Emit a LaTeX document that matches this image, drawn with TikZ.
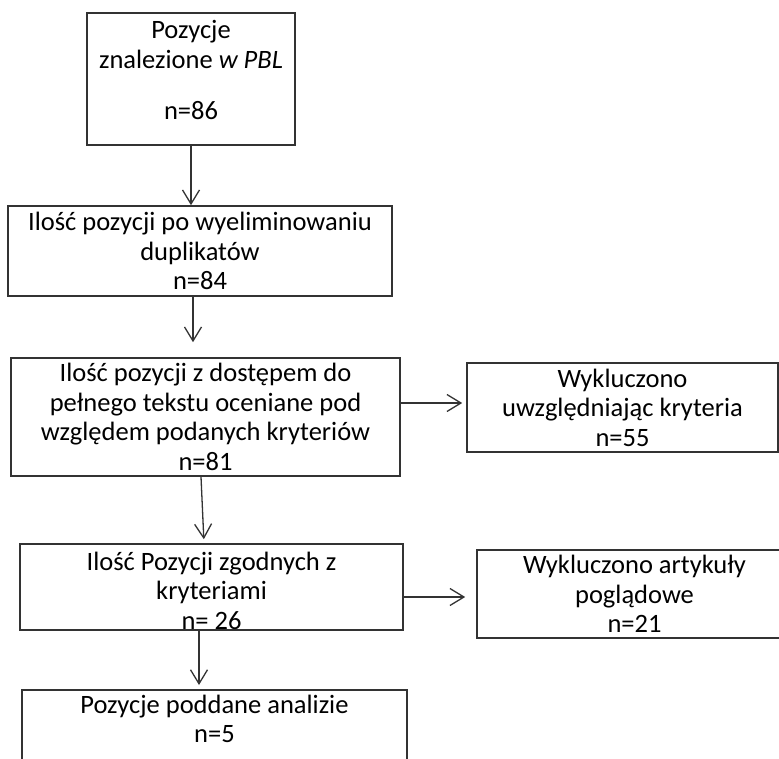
\documentclass[tikz,border=0pt]{standalone}
\usepackage{fontspec}
\setmainfont{Carlito}
\usetikzlibrary{arrows.meta}

\begin{document}
\begin{tikzpicture}[x=1pt,y=-1pt,
		box/.style={draw=black!80, line width=1.6pt, align=center, inner sep=0pt, font=\fontsize{26.5}{29.5}\selectfont},
		arr/.style={->, line width=1.3pt, draw=black!80},
		>={Straight Barb[length=14pt,width=17pt]}]
		\useasboundingbox (0,0) rectangle (779,759);
		\clip (0,0) rectangle (779,759);
		\node[box, minimum width=208pt, minimum height=132pt] (b1) at (191,79) {Pozycje\\ znalezione \textit{w PBL}\\[22pt] n=86\rule[-18pt]{0pt}{0pt}};
		\node[box, minimum width=384pt, minimum height=90pt] (b2) at (200,251) {Ilość pozycji po wyeliminowaniu\\ duplikatów\\ n=84};
		\node[box, minimum width=389pt, minimum height=118pt] (b3) at (205.5,417) {Ilość pozycji z dostępem do\\ pełnego tekstu oceniane pod\\ względem podanych kryteriów\\ n=81};
		\node[box, minimum width=311pt, minimum height=89pt] (b4) at (622.5,407.5) {Wykluczono\\ uwzględniając kryteria\\ n=55};
		\node[box, minimum width=383pt, minimum height=86pt] (b5) at (211.5,587) {\rule{0pt}{26pt}Ilość Pozycji zgodnych z\\ kryteriami\\ n= 26};
		\node[box, minimum width=315pt, minimum height=88pt] (b6) at (634.5,594) {Wykluczono artykuły\\ poglądowe\\ n=21};
		\node[box, anchor=north, inner ysep=5pt, minimum width=385pt] (b7) at (214.5,689) {Pozycje poddane analizie\\ n=5\rule[-60pt]{0pt}{0pt}};
		\draw[arr] (b1.south) -- (b1.south |- b2.north);
		\draw[arr, shorten >=15pt] ([xshift=-7pt]b2.south) -- ([xshift=-7pt]b2.south |- b3.north);
		\draw[arr, shorten >=4pt] ([xshift=-4.5pt]b3.south) -- ([xshift=-7.5pt]b5.north);
		\draw[arr, shorten >=4pt] ([xshift=-12.5pt]b5.south) -- ([xshift=-12.5pt]b5.south |- b7.north);
		\draw[arr, shorten >=4pt] ([yshift=14pt]b3.east) -- ([yshift=14pt]b3.east -| b4.west);
		\draw[arr, shorten >=11pt] ([yshift=-10pt]b5.east) -- ([yshift=-10pt]b5.east -| b6.west);
	\end{tikzpicture}
\end{document}
